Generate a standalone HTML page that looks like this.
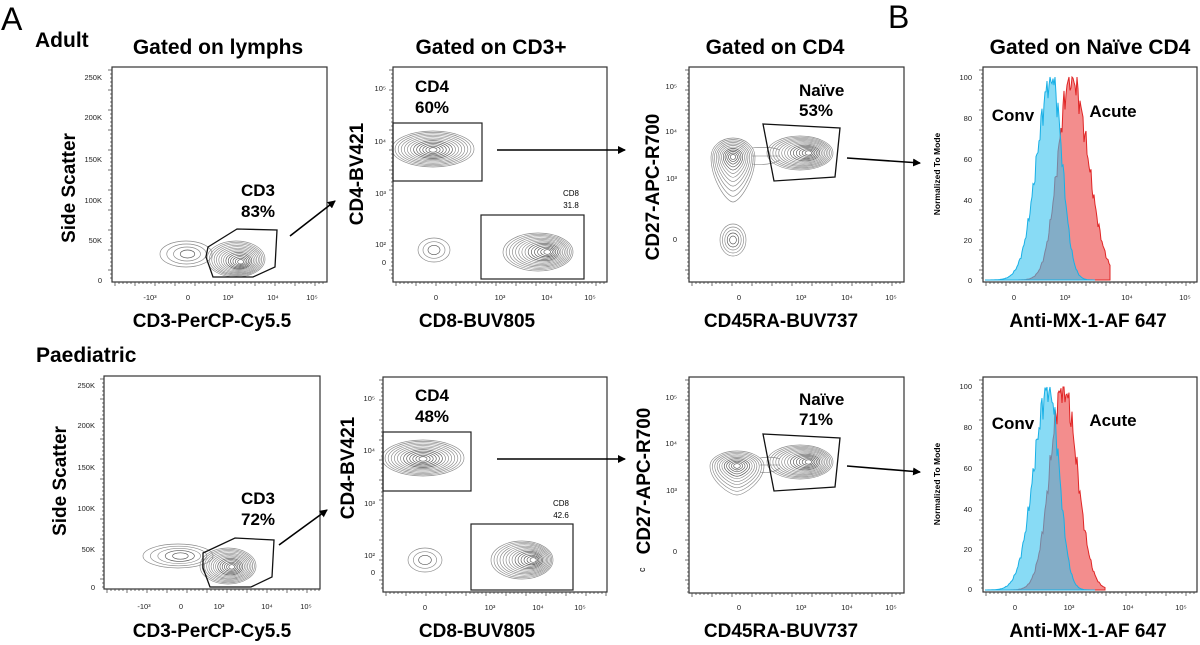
<!DOCTYPE html>
<html><head><meta charset="utf-8"><style>
html,body{margin:0;padding:0;background:#fff;}
svg{display:block;font-family:"Liberation Sans",sans-serif;}
.t{font-weight:bold;font-size:21px;}
.ax{font-weight:bold;font-size:19px;}
.g{font-weight:bold;font-size:17px;}
.tk{font-size:7.5px;fill:#222;}
</style></head><body>
<svg id="s" width="1200" height="645" viewBox="0 0 1200 645" xmlns="http://www.w3.org/2000/svg">
<defs><marker id="ar" markerWidth="8" markerHeight="8" refX="7" refY="4" orient="auto" markerUnits="userSpaceOnUse"><path d="M0,0 L8,4 L0,8 z" fill="#000"/></marker></defs>
<text x="1" y="30" font-size="32">A</text>
<text x="888" y="28" font-size="32">B</text>
<text x="35" y="47" class="t" font-size="20">Adult</text>
<text x="36" y="362" class="t" font-size="20">Paediatric</text>
<text x="218" y="54" class="t" text-anchor="middle">Gated on lymphs</text>
<text x="491" y="54" class="t" text-anchor="middle">Gated on CD3+</text>
<text x="775" y="54" class="t" text-anchor="middle">Gated on CD4</text>
<text x="1090" y="54" class="t" text-anchor="middle">Gated on Naïve CD4</text>

<text class="ax" text-anchor="middle" transform="translate(75,188) rotate(-90)">Side Scatter</text>
<text class="ax" x="212" y="327" text-anchor="middle">CD3-PerCP-Cy5.5</text>
<text class="ax" text-anchor="middle" transform="translate(363,174) rotate(-90)">CD4-BV421</text>
<text class="ax" x="477" y="327" text-anchor="middle">CD8-BUV805</text>
<text class="ax" text-anchor="middle" transform="translate(659,187) rotate(-90)">CD27-APC-R700</text>
<text class="ax" x="781" y="327" text-anchor="middle">CD45RA-BUV737</text>
<text font-size="8.5" font-weight="bold" text-anchor="middle" transform="translate(940,174) rotate(-90)">Normalized To Mode</text>
<text class="ax" x="1088" y="327" text-anchor="middle">Anti-MX-1-AF 647</text>

<text class="ax" text-anchor="middle" transform="translate(66,481) rotate(-90)">Side Scatter</text>
<text class="ax" x="212" y="637" text-anchor="middle">CD3-PerCP-Cy5.5</text>
<text class="ax" text-anchor="middle" transform="translate(354,468) rotate(-90)">CD4-BV421</text>
<text class="ax" x="477" y="637" text-anchor="middle">CD8-BUV805</text>
<text class="ax" text-anchor="middle" transform="translate(650,481) rotate(-90)">CD27-APC-R700</text>
<text font-size="9" transform="translate(645,572) rotate(-90)">c</text>
<text class="ax" x="781" y="637" text-anchor="middle">CD45RA-BUV737</text>
<text font-size="8.5" font-weight="bold" text-anchor="middle" transform="translate(940,484) rotate(-90)">Normalized To Mode</text>
<text class="ax" x="1088" y="637" text-anchor="middle">Anti-MX-1-AF 647</text>

<text class="g" x="258" y="196" text-anchor="middle">CD3</text>
<text class="g" x="258" y="217" text-anchor="middle">83%</text>
<text class="g" x="415" y="92">CD4</text>
<text class="g" x="415" y="113">60%</text>
<text x="571" y="196" font-size="8" text-anchor="middle">CD8</text>
<text x="571" y="208" font-size="8" text-anchor="middle">31.8</text>
<text class="g" x="799" y="96">Naïve</text>
<text class="g" x="799" y="116">53%</text>

<text class="g" x="258" y="504" text-anchor="middle">CD3</text>
<text class="g" x="258" y="525" text-anchor="middle">72%</text>
<text class="g" x="415" y="401">CD4</text>
<text class="g" x="415" y="422">48%</text>
<text x="561" y="506" font-size="8" text-anchor="middle">CD8</text>
<text x="561" y="518" font-size="8" text-anchor="middle">42.6</text>
<text class="g" x="799" y="405">Naïve</text>
<text class="g" x="799" y="425">71%</text>

<g class="tk" text-anchor="end">
<text x="102" y="80">250K</text><text x="102" y="120">200K</text><text x="102" y="162">150K</text><text x="102" y="203">100K</text><text x="102" y="243">50K</text><text x="102" y="283">0</text>
<text x="95" y="388">250K</text><text x="95" y="428">200K</text><text x="95" y="470">150K</text><text x="95" y="511">100K</text><text x="95" y="552">50K</text><text x="95" y="590">0</text>
<text x="386" y="91">10⁵</text><text x="386" y="144">10⁴</text><text x="386" y="196">10³</text><text x="386" y="247">10²</text><text x="386" y="265">0</text>
<text x="375" y="401">10⁵</text><text x="375" y="453">10⁴</text><text x="375" y="506">10³</text><text x="375" y="558">10²</text><text x="375" y="575">0</text>
<text x="677" y="89">10⁵</text><text x="677" y="134">10⁴</text><text x="677" y="181">10³</text><text x="677" y="242">0</text>
<text x="677" y="400">10⁵</text><text x="677" y="446">10⁴</text><text x="677" y="493">10³</text><text x="677" y="554">0</text>
<text x="972" y="80">100</text><text x="972" y="121">80</text><text x="972" y="162">60</text><text x="972" y="203">40</text><text x="972" y="243">20</text><text x="972" y="283">0</text>
<text x="972" y="389">100</text><text x="972" y="430">80</text><text x="972" y="471">60</text><text x="972" y="512">40</text><text x="972" y="552">20</text><text x="972" y="592">0</text>
</g>
<g class="tk" text-anchor="middle">
<text x="150" y="300">-10³</text><text x="188" y="300">0</text><text x="228" y="300">10³</text><text x="273" y="300">10⁴</text><text x="312" y="300">10⁵</text>
<text x="144" y="609">-10³</text><text x="181" y="609">0</text><text x="219" y="609">10³</text><text x="267" y="609">10⁴</text><text x="306" y="609">10⁵</text>
<text x="436" y="300">0</text><text x="500" y="300">10³</text><text x="547" y="300">10⁴</text><text x="590" y="300">10⁵</text>
<text x="425" y="610">0</text><text x="490" y="610">10³</text><text x="538" y="610">10⁴</text><text x="580" y="610">10⁵</text>
<text x="739" y="300">0</text><text x="801" y="300">10³</text><text x="847" y="300">10⁴</text><text x="891" y="300">10⁵</text>
<text x="739" y="610">0</text><text x="801" y="610">10³</text><text x="847" y="610">10⁴</text><text x="891" y="610">10⁵</text>
<text x="1014" y="300">0</text><text x="1065" y="300">10³</text><text x="1127" y="300">10⁴</text><text x="1185" y="300">10⁵</text>
<text x="1015" y="610">0</text><text x="1069" y="610">10³</text><text x="1128" y="610">10⁴</text><text x="1181" y="610">10⁵</text>
</g>
<g id="d"></g>
<g>
<text class="g" x="1013" y="121" text-anchor="middle">Conv</text>
<text class="g" x="1113" y="117" text-anchor="middle">Acute</text>
<text class="g" x="1013" y="429" text-anchor="middle">Conv</text>
<text class="g" x="1113" y="426" text-anchor="middle">Acute</text>
</g>
</svg>
<script>
var NS="http://www.w3.org/2000/svg",D=document.getElementById("d");
function el(n,a){var e=document.createElementNS(NS,n);for(var k in a)e.setAttribute(k,a[k]);D.appendChild(e);return e;}
function box(x1,y1,x2,y2){el("rect",{x:x1,y:y1,width:x2-x1,height:y2-y1,fill:"none",stroke:"#333","stroke-width":1.2});
 for(var x=x1+3;x<x2;x+=4)el("line",{x1:x,y1:y2,x2:x,y2:y2+((x-x1)%20<4?4:2),stroke:"#333","stroke-width":0.7});
 for(var y=y1+3;y<y2;y+=4)el("line",{x1:x1,y1:y,x2:x1-((y-y1)%20<4?4:2),y2:y,stroke:"#333","stroke-width":0.7});}
function cont(cx,cy,rx,ry,n,dx,dy){for(var i=0;i<n;i++){var f=1-i/n;el("ellipse",{cx:cx+dx*(1-f),cy:cy+dy*(1-f),rx:rx*f+1,ry:ry*f+1,fill:"none",stroke:i>n*0.5?"#555":"#8a8a8a","stroke-width":0.65});}}
function tear(cx,cy,rx,ryt,ryb,n){for(var i=0;i<n;i++){var f=1-i/n;var a=rx*f+1,t=ryt*f+1,b=ryb*f*f+ryt*f*(1-f)+1;
 var d="M"+(cx-a)+","+cy+" A"+a+","+t+" 0 0 1 "+(cx+a)+","+cy+" C"+(cx+a)+","+(cy+b*0.5)+" "+(cx+a*0.3)+","+(cy+b)+" "+cx+","+(cy+b)+" C"+(cx-a*0.3)+","+(cy+b)+" "+(cx-a)+","+(cy+b*0.5)+" "+(cx-a)+","+cy+" Z";
 el("path",{d:d,fill:"none",stroke:i>n*0.5?"#555":"#8a8a8a","stroke-width":0.65});}}
function poly(p){el("polygon",{points:p,fill:"none",stroke:"#111","stroke-width":1.3});}
function rect(x1,y1,x2,y2){el("rect",{x:x1,y:y1,width:x2-x1,height:y2-y1,fill:"none",stroke:"#222","stroke-width":1.2});}
function arrow(x1,y1,x2,y2){el("line",{x1:x1,y1:y1,x2:x2,y2:y2,stroke:"#000","stroke-width":1.6,"marker-end":"url(#ar)"});}
function hist(x0,x1,base,top,c,sl,sr,fill,stroke,op){var d="M"+x0+","+base;
 for(var x=x0;x<=x1;x+=1){var sg=x<c?sl:sr;var v=Math.exp(-Math.pow((x-c)/sg,2)/2);v*=1+0.1*Math.sin(x*2.7)*Math.sin(x*1.3);if(v>1)v=1;d+=" L"+x+","+(base-(base-top)*v).toFixed(1);}
 d+=" L"+x1+","+base+" Z";el("path",{d:d,fill:fill,"fill-opacity":op,stroke:stroke,"stroke-width":1});}
// TOP ROW
box(112,67,327,282);
cont(186,254,25,12,4,2,0);
cont(236,259,28,17,14,5,3);
poly("208,247 237,229 277,230 275,267 253,277 213,277 206,257");
arrow(290,236,335,201);
box(393,67,607,282);
cont(433,149,40,17,13,0,1); rect(393,123,482,181);
cont(434,250,15,11,3,0,0);
cont(538,252,34,18,14,10,0); rect(481,215,584,279);
arrow(497,150,625,150);
box(689,67,904,282);
tear(733,157,21,18,44,12);
cont(733,240,12,15,5,0,0);
el("path",{d:"M752,148 Q770,146 780,150 M752,164 Q770,166 780,160 M752,156 L780,156",fill:"none",stroke:"#777","stroke-width":0.6});
cont(800,153,32,16,14,9,0);
poly("763,124 840,128 835,177 774,181");
arrow(847,158,920,163);
box(983,67,1197,282);
hist(985,1110,280,77,1071,13,17,"#f07070","#e02525",0.8);
hist(985,1095,280,77,1052,15,10,"#38c3ee","#18b0e6",0.6);
// BOTTOM ROW
box(104,376,320,589);
cont(178,556,34,11,5,3,0);
cont(228,566,27,17,14,4,1);
poly("203,553 235,538 274,540 272,577 251,587 210,587 203,568");
arrow(279,545,327,510);
box(383,377,607,592);
cont(423,458,40,17,13,0,1); rect(383,432,471,491);
cont(425,560,16,11,3,0,0);
cont(522,560,30,18,14,12,0); rect(471,524,573,590);
arrow(497,459,625,459);
box(689,377,904,593);
tear(737,466,26,14,28,11);
el("path",{d:"M760,458 Q772,456 780,459 M760,472 Q772,474 780,468 M760,465 L780,465",fill:"none",stroke:"#777","stroke-width":0.6});
cont(800,462,32,16,14,9,0);
poly("763,434 840,438 835,487 774,491");
arrow(847,466,920,472);
box(983,377,1197,592);
hist(985,1105,590,387,1063,13,14,"#f07070","#e02525",0.8);
hist(985,1095,590,387,1049,15,10,"#38c3ee","#18b0e6",0.6);
</script>
</body></html>
